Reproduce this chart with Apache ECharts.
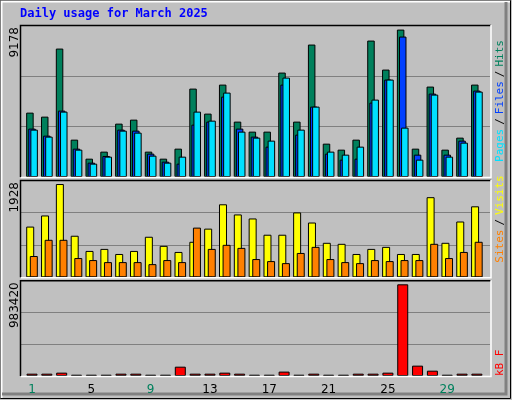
<!DOCTYPE html>
<html><head><meta charset="utf-8">
<script src="https://cdn.jsdelivr.net/npm/echarts@6/dist/echarts.min.js"></script>
<style>html,body{margin:0;padding:0;background:#c0c0c0}#c{width:512px;height:400px}</style>
</head><body><div id="c"></div>
<script>
var days = ['1','2','3','4','5','6','7','8','9','10','11','12','13','14','15','16','17','18','19','20','21','22','23','24','25','26','27','28','29','30','31'];
var weekend = [1,2,8,9,15,16,22,23,29,30];
var hits  = [4008,3759,7996,2326,1142,1579,3323,3572,1579,1142,1765,5504,3946,5753,3448,2825,2825,6501,3448,8246,2077,1703,2326,8495,6688,9178,1765,5629,1703,2451,5753];
var files = [3012,2575,4133,1765,893,1309,2949,2887,1454,955,831,3261,3448,5006,3012,2513,1890,5753,2638,4382,1454,1080,1142,4632,6065,8744,1392,5193,1392,2264,5379];
var pages = [2949,2513,4071,1703,831,1267,2887,2762,1329,893,1267,4071,3510,5255,2825,2451,2264,6189,2949,4382,1579,1392,1890,4819,6065,3074,1080,5130,1267,2139,5317];
var visits = [1048,1278,1928,859,545,587,482,545,838,650,524,734,1006,1509,1299,1216,880,880,1341,1132,713,692,482,587,629,482,482,1656,713,1153,1467];
var sites  = [440,775,775,398,356,314,314,314,272,356,314,1027,587,671,608,377,335,293,503,629,377,314,293,356,335,356,356,692,398,524,734];
var kbytes = [25000,25000,36000,14000,14000,14000,25000,25000,14000,14000,100000,25000,25000,36000,25000,14000,14000,47000,14000,25000,14000,14000,25000,25000,36000,983420,111000,57000,14000,25000,25000];
var maxLabels = ['9178','1928','983420'];

var chart = echarts.init(document.getElementById('c'), null, {renderer:'canvas'});
var GL = 24.6, GW = 459.7;
var panels = [[25,177],[180,277.3],[280.3,376]];
var graphics = [
  {type:'rect',shape:{x:0.5,y:0.5,width:510,height:398},style:{fill:'none',stroke:'#000',lineWidth:1},silent:true},
  {type:'polyline',shape:{points:[[1.5,398],[1.5,1.5],[510,1.5]]},style:{fill:'none',stroke:'#fff',lineWidth:2}},
  {type:'polyline',shape:{points:[[506,2],[506,394],[2,394]]},style:{fill:'none',stroke:'#808080',lineWidth:3}},
  {type:'text',left:20,top:8,style:{text:'Daily usage for March 2025',fill:'#0000ff',font:'bold 12px "DejaVu Sans Mono", monospace'}}
];
panels.forEach(function(p,i){
  var h=p[1]-p[0];
  graphics.push({type:'rect',z:-1,shape:{x:20,y:p[0],width:471,height:h},style:{fill:'#c0c0c0'}});
  graphics.push({type:'polyline',z:10,shape:{points:[[20.5,p[1]],[20.5,p[0]+0.5],[491,p[0]+0.5]]},style:{fill:'none',stroke:'#000',lineWidth:1.5}});
  graphics.push({type:'polyline',z:10,shape:{points:[[21,p[1]+0.5],[491,p[1]+0.5],[491,p[0]]]},style:{fill:'none',stroke:'#fff',lineWidth:1.5}});
  [1,2].forEach(function(k){
    var y=Math.round(p[0]+h*k/3)+0.5;
    graphics.push({type:'line',z:0,shape:{x1:21,y1:y,x2:490,y2:y},style:{stroke:'#808080',lineWidth:1}});
  });
  graphics.push({type:'text',x:15,y:p[0]+2,rotation:Math.PI/2,style:{text:maxLabels[i],align:'right',verticalAlign:'middle',fill:'#000',font:'12px "DejaVu Sans", sans-serif'}});
});
var rf='11px "DejaVu Sans Mono", monospace';
function rlabel(y,parts){
  graphics.push({type:'text',x:500,y:y,rotation:Math.PI/2,style:{rich:parts.rich,text:parts.text,align:'center',verticalAlign:'middle',font:rf}});
}
rlabel(101,{text:'{p|Pages}{s|/}{f|Files}{s|/}{h|Hits}',rich:{p:{fill:'#00e0ff',font:rf},f:{fill:'#0040ff',font:rf},h:{fill:'#00805c',font:rf},s:{fill:'#000',font:rf,padding:[0,4]}}});
rlabel(219,{text:'{a|Sites}{s|/}{b|Visits}',rich:{a:{fill:'#ff8000',font:rf},b:{fill:'#ffff00',font:rf},s:{fill:'#000',font:rf,padding:[0,4]}}});
graphics.push({type:'text',x:500,y:376,rotation:Math.PI/2,style:{text:'kB F',align:'left',verticalAlign:'middle',fill:'#ff0000',font:rf}});

var grids = panels.map(function(p){return {left:GL,width:GW,top:p[0],height:p[1]-p[0]};});
var maxes=[9464,2011,1026460];
var xAxes = grids.map(function(g,i){return {type:'category',gridIndex:i,data:days,axisLine:{show:false},axisTick:{show:false},
  axisLabel:{show:i===2,margin:8,fontSize:12,fontFamily:'DejaVu Sans',formatter:function(v){return weekend.indexOf(+v)>=0?'{w|'+v+'}':'{n|'+v+'}';},rich:{w:{color:'#00805c',fontSize:12,fontFamily:'DejaVu Sans'},n:{color:'#000',fontSize:12,fontFamily:'DejaVu Sans'}}}};});
var yAxes = grids.map(function(g,i){return {type:'value',gridIndex:i,min:0,max:maxes[i],show:false,splitLine:{show:false}};});
var bs={borderColor:'#000',borderWidth:1};
function bar(name,data,color,gi,w,gap){return {name:name,type:'bar',xAxisIndex:gi,yAxisIndex:gi,data:data,barWidth:w,barGap:gap,itemStyle:Object.assign({color:color},bs),animation:false};}
chart.setOption({
  animation:false,
  grid:grids,xAxis:xAxes,yAxis:yAxes,
  graphic:graphics,
  series:[
    bar('Hits',hits,'#00805c',0,7.5,'-72%'),
    bar('Files',files,'#0040ff',0,7.5,'-72%'),
    bar('Pages',pages,'#00e0ff',0,7.5,'-72%'),
    bar('Visits',visits,'#ffff00',1,8,'-55%'),
    bar('Sites',sites,'#ff8000',1,8,'-55%'),
    bar('kB F',kbytes,'#ff0000',2,11,'0%')
  ]
});
</script></body></html>
